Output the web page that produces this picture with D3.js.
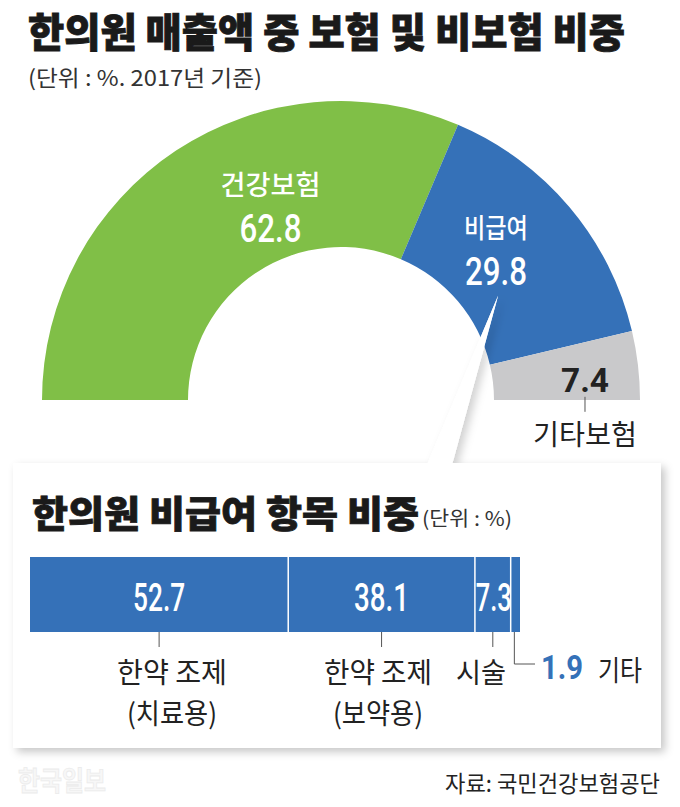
<!DOCTYPE html>
<html><head><meta charset="utf-8">
<script src="https://cdn.jsdelivr.net/npm/d3@7"></script>
<style>
html,body{margin:0;padding:0;background:#fff;}
svg{display:block;}
</style></head>
<body>
<svg id="chart" width="680" height="807"></svg>
<script>
// ---- data ----
const title = "한의원 매출액 중 보험 및 비보험 비중";
const subtitle = "(단위 : %. 2017년 기준)";
const mainCategories = ["건강보험", "비급여", "기타보험"];
const mainValues = [62.8, 29.8, 7.4];
const mainColors = ["#80bf47", "#3571b8", "#c9c9cb"];

const subTitle = "한의원 비급여 항목 비중";
const subUnit = "(단위 : %)";
const subCategoriesLine1 = ["한약 조제", "한약 조제", "시술", "기타"];
const subCategoriesLine2 = ["(치료용)", "(보약용)", "", ""];
const subValues = [52.7, 38.1, 7.3, 1.9];
const source = "자료: 국민건강보험공단";
const watermark = "한국일보";

const KR = "'Noto Sans CJK KR', 'Noto Sans', sans-serif";
const NUM = "'Roboto', 'Noto Sans', sans-serif";

const svg = d3.select("#chart");
const defs = svg.append("defs");
const f = defs.append("filter").attr("id","shadow").attr("x","-10%").attr("y","-10%").attr("width","130%").attr("height","140%");
f.append("feDropShadow").attr("dx",4).attr("dy",4).attr("stdDeviation",4).attr("flood-color","#000").attr("flood-opacity",0.22);
const f2 = defs.append("filter").attr("id","shadow2").attr("x","-50%").attr("y","-10%").attr("width","200%").attr("height","130%");
f2.append("feDropShadow").attr("dx",5).attr("dy",2).attr("stdDeviation",4).attr("flood-color","#000").attr("flood-opacity",0.18);

// ---- titles ----
svg.append("text").attr("x",28).attr("y",47).text(title)
  .attr("font-family",KR).attr("font-weight",900).attr("font-size",40)
  .attr("fill","#1a1a1a").attr("stroke","#1a1a1a").attr("stroke-width",0.9)
  .attr("textLength",597).attr("lengthAdjust","spacingAndGlyphs");
svg.append("text").attr("x",28).attr("y",86).text(subtitle)
  .attr("font-family",KR).attr("font-weight",400).attr("font-size",22)
  .attr("fill","#333").attr("textLength",234).attr("lengthAdjust","spacingAndGlyphs");

// ---- semicircle ----
const cx = 341, cy = 400, rOuter = 299, rInner = 153;
const pie = d3.pie().sort(null).startAngle(-Math.PI/2).endAngle(Math.PI/2);
const arcs = pie(mainValues);
const arc = d3.arc().innerRadius(rInner).outerRadius(rOuter);
const g = svg.append("g").attr("transform",`translate(${cx},${cy})`);
g.selectAll("path").data(arcs).join("path")
  .attr("d",arc).attr("fill",(d,i)=>mainColors[i]);

function polar(a, r){ return [r*Math.sin(a), -r*Math.cos(a)]; }
const labelFrac = [0.62, 0.42, 0.61];
const labelR = [207, 217, 245];
const lp = arcs.map((d,i)=>polar(d.startAngle + (d.endAngle-d.startAngle)*labelFrac[i], labelR[i]));

// green & blue: name + value in white
[0,1].forEach(i=>{
  const [x,y] = lp[i];
  g.append("text").attr("x",x).attr("y",y-10).attr("text-anchor","middle")
    .attr("font-family",KR).attr("font-weight",500).attr("font-size",27).attr("fill","#fff")
    .attr("textLength", i===0?100:64).attr("lengthAdjust","spacingAndGlyphs")
    .text(mainCategories[i]);
  g.append("text").attr("x",x).attr("y",y+37).attr("text-anchor","middle")
    .attr("font-family",NUM).attr("font-weight",500).attr("font-size",38).attr("fill","#fff")
    .attr("textLength",62).attr("lengthAdjust","spacingAndGlyphs")
    .text(d3.format(".1f")(mainValues[i]));
});
// gray
{
  const [x,y] = lp[2];
  g.append("text").attr("x",x).attr("y",y+14).attr("text-anchor","middle")
    .attr("font-family",NUM).attr("font-weight",700).attr("font-size",34).attr("fill","#222")
    .attr("textLength",48).attr("lengthAdjust","spacingAndGlyphs")
    .text(d3.format(".1f")(mainValues[2]));
  g.append("line").attr("x1",x).attr("x2",x).attr("y1",y+19).attr("y2",y+34)
    .attr("stroke","#555").attr("stroke-width",1);
  g.append("text").attr("x",x).attr("y",y+67).attr("text-anchor","middle")
    .attr("font-family",KR).attr("font-weight",400).attr("font-size",28).attr("fill","#222")
    .attr("textLength",104).attr("lengthAdjust","spacingAndGlyphs")
    .text(mainCategories[2]);
}

// ---- callout pointer ----
const box = {x:13, y:463, w:648, h:285};
const tipAngle = arcs[1].startAngle + (arcs[1].endAngle-arcs[1].startAngle)*0.62;
const tip = polar(tipAngle, rInner + 36).map((v,i)=> v + (i===0?cx:cy));
svg.append("path")
  .attr("d", `M${tip[0]},${tip[1]} L${427},${box.y+2} L${452},${box.y+2} Z`)
  .attr("fill","#fff").attr("filter","url(#shadow2)");

// ---- box ----
svg.append("rect").attr("x",box.x).attr("y",box.y).attr("width",box.w).attr("height",box.h)
  .attr("fill","#fff").attr("filter","url(#shadow)");
svg.append("path")
  .attr("d", `M${tip[0]},${tip[1]} L${427},${box.y+1} L${452},${box.y+1} Z`)
  .attr("fill","#fff");

svg.append("text").attr("x",32).attr("y",528).text(subTitle)
  .attr("font-family",KR).attr("font-weight",900).attr("font-size",37)
  .attr("fill","#1a1a1a").attr("stroke","#1a1a1a").attr("stroke-width",0.8)
  .attr("textLength",387).attr("lengthAdjust","spacingAndGlyphs");
svg.append("text").attr("x",422).attr("y",526).text(subUnit)
  .attr("font-family",KR).attr("font-weight",400).attr("font-size",20)
  .attr("fill","#333").attr("textLength",90).attr("lengthAdjust","spacingAndGlyphs");

// ---- stacked bar ----
const x = d3.scaleLinear().domain([0, d3.sum(subValues)]).range([30, 520]);
const barTop = 557, barH = 75;
let acc = 0;
const segs = subValues.map(v=>{ const s = {v, x0:acc, x1:acc+v}; acc += v; return s; });
const bg = svg.append("g");
bg.selectAll("rect").data(segs).join("rect")
  .attr("x",d=>x(d.x0)).attr("y",barTop).attr("width",d=>x(d.x1)-x(d.x0)).attr("height",barH)
  .attr("fill","#3571b8");
// value labels inside (first three)
const valW = [52, 55, 36];
segs.slice(0,3).forEach((d,i)=>{
  bg.append("text").attr("x",(x(d.x0)+x(d.x1))/2 + (i===2?1:0)).attr("y",barTop+barH/2+16)
    .attr("text-anchor","middle").attr("font-family",NUM).attr("font-weight",500).attr("font-size",38).attr("fill","#fff")
    .attr("textLength",valW[i]).attr("lengthAdjust","spacingAndGlyphs")
    .text(d3.format(".1f")(d.v));
});
// separators
bg.selectAll("line.sep").data(segs.slice(1)).join("line").attr("class","sep")
  .attr("x1",d=>x(d.x0)).attr("x2",d=>x(d.x0)).attr("y1",barTop).attr("y2",barTop+barH)
  .attr("stroke","#fff").attr("stroke-width",1.5);

// ticks + category labels
segs.slice(0,3).forEach((d,i)=>{
  const mx = (x(d.x0)+x(d.x1))/2;
  bg.append("line").attr("x1",mx).attr("x2",mx).attr("y1",barTop+barH).attr("y2",barTop+barH+15)
    .attr("stroke","#555").attr("stroke-width",1);
});
const catW1 = [110, 108, 50];
const catX = [172, 378, 481];
segs.slice(0,3).forEach((d,i)=>{
  bg.append("text").attr("x",catX[i]).attr("y",683).attr("text-anchor","middle")
    .attr("font-family",KR).attr("font-size",28).attr("fill","#222")
    .attr("textLength",catW1[i]).attr("lengthAdjust","spacingAndGlyphs")
    .text(subCategoriesLine1[i]);
  if (subCategoriesLine2[i]) bg.append("text").attr("x",catX[i]).attr("y",724).attr("text-anchor","middle")
    .attr("font-family",KR).attr("font-size",28).attr("fill","#222")
    .attr("textLength",90).attr("lengthAdjust","spacingAndGlyphs")
    .text(subCategoriesLine2[i]);
});
// last segment: elbow leader
{
  const d = segs[3];
  const mx = (x(d.x0)+x(d.x1))/2 - 1;
  bg.append("path").attr("d",`M${mx},${barTop+barH} V664 H535`)
    .attr("fill","none").attr("stroke","#555").attr("stroke-width",1);
  bg.append("text").attr("x",541).attr("y",679)
    .attr("font-family",NUM).attr("font-weight",700).attr("font-size",34).attr("fill","#3571b8")
    .attr("textLength",42).attr("lengthAdjust","spacingAndGlyphs")
    .text(d3.format(".1f")(d.v));
  bg.append("text").attr("x",598).attr("y",681)
    .attr("font-family",KR).attr("font-size",28).attr("fill","#222")
    .attr("textLength",44).attr("lengthAdjust","spacingAndGlyphs")
    .text(subCategoriesLine1[3]);
}

// ---- source & watermark ----
svg.append("text").attr("x",18).attr("y",791).text(watermark)
  .attr("font-family",KR).attr("font-weight",700).attr("font-size",27)
  .attr("fill","#f7f7f7").attr("stroke","#ebebeb").attr("stroke-width",0.8)
  .attr("textLength",88).attr("lengthAdjust","spacingAndGlyphs");
svg.append("text").attr("x",660).attr("y",792).attr("text-anchor","end").text(source)
  .attr("font-family",KR).attr("font-size",23).attr("fill","#222")
  .attr("textLength",215).attr("lengthAdjust","spacingAndGlyphs");
</script>
</body></html>
